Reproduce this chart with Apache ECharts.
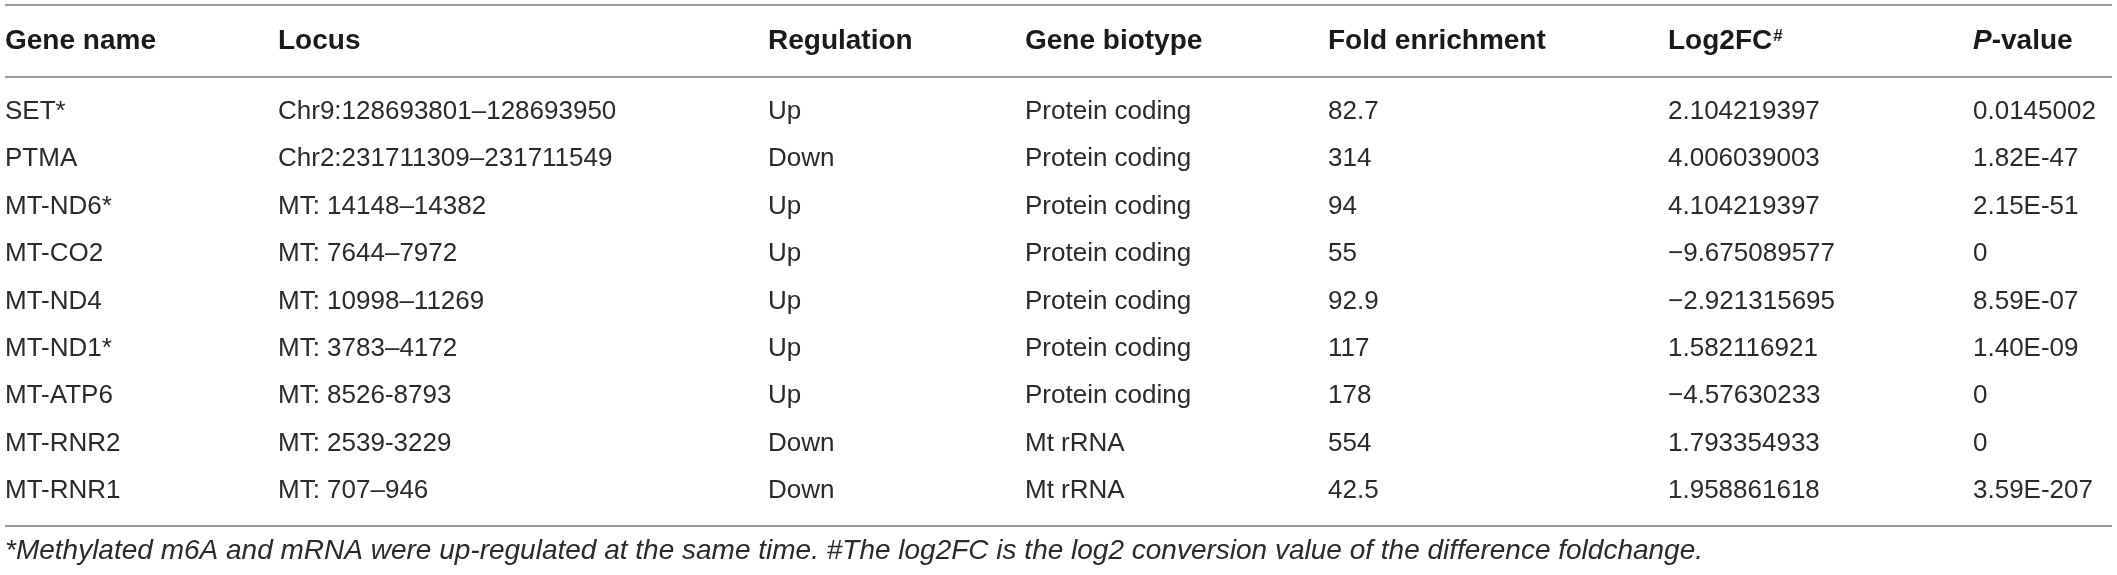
<!DOCTYPE html>
<html>
<head>
<meta charset="utf-8">
<script src="https://cdn.jsdelivr.net/npm/echarts@6/dist/echarts.min.js"></script>
<style>
  html, body { margin: 0; padding: 0; background: #fff; }
  #chart { width: 2117px; height: 575px; }
</style>
</head>
<body>
<div id="chart"></div>
<script>
// ---- table data ----
const headers = ['Gene name', 'Locus', 'Regulation', 'Gene biotype', 'Fold enrichment', 'Log2FC#', 'P-value'];
const geneNames = ['SET*', 'PTMA', 'MT-ND6*', 'MT-CO2', 'MT-ND4', 'MT-ND1*', 'MT-ATP6', 'MT-RNR2', 'MT-RNR1'];
const loci = ['Chr9:128693801\u2013128693950', 'Chr2:231711309\u2013231711549', 'MT: 14148\u201314382', 'MT: 7644\u20137972',
  'MT: 10998\u201311269', 'MT: 3783\u20134172', 'MT: 8526-8793', 'MT: 2539-3229', 'MT: 707\u2013946'];
const regulation = ['Up', 'Down', 'Up', 'Up', 'Up', 'Up', 'Up', 'Down', 'Down'];
const geneBiotype = ['Protein coding', 'Protein coding', 'Protein coding', 'Protein coding', 'Protein coding',
  'Protein coding', 'Protein coding', 'Mt rRNA', 'Mt rRNA'];
const foldEnrichment = ['82.7', '314', '94', '55', '92.9', '117', '178', '554', '42.5'];
const log2FC = ['2.104219397', '4.006039003', '4.104219397', '\u22129.675089577', '\u22122.921315695',
  '1.582116921', '\u22124.57630233', '1.793354933', '1.958861618'];
const pValues = ['0.0145002', '1.82E-47', '2.15E-51', '0', '8.59E-07', '1.40E-09', '0', '0', '3.59E-207'];
const footnote = '*Methylated m6A and mRNA were up-regulated at the same time. #The log2FC is the log2 conversion value of the difference foldchange.';

// ---- layout (pixel positions of columns / rules) ----
const colX = [5, 278, 768, 1025, 1328, 1668, 1973];
const ruleY = [5, 77, 526];
const headerY = 41.5;
const footY = 551;

const columns = [geneNames, loci, regulation, geneBiotype, foldEnrichment, log2FC, pValues];
const cells = [];
for (let r = 0; r < geneNames.length; r++) {
  for (let c = 0; c < columns.length; c++) cells.push([r, c]);
}

const FONT = '"Liberation Sans", Arial, Helvetica, sans-serif';

const graphics = [];
ruleY.forEach(y => graphics.push({
  type: 'line', silent: true,
  shape: { x1: 5, y1: y, x2: 2112, y2: y },
  style: { stroke: '#9b9b9b', lineWidth: 2 }
}));
headers.forEach((h, i) => {
  let text = h;
  if (h === 'Log2FC#') text = 'Log2FC{sup|#}';
  if (h === 'P-value') text = '{it|P}-value';
  graphics.push({
    type: 'text', silent: true,
    x: colX[i], y: headerY,
    style: {
      text: text,
      fill: '#1a1a1a',
      fontFamily: FONT, fontSize: 28, fontWeight: 'bold',
      textAlign: 'left', textVerticalAlign: 'middle',
      rich: {
        sup: { fontFamily: FONT, fontSize: 17, fontWeight: 'bold', fill: '#1a1a1a', verticalAlign: 'top', padding: [0, 0, 10, 1] },
        it: { fontFamily: FONT, fontSize: 28, fontWeight: 'bold', fontStyle: 'italic', fill: '#1a1a1a' }
      }
    }
  });
});
graphics.push({
  type: 'text', silent: true,
  x: 5, y: footY,
  style: {
    text: footnote, fill: '#2a2a2a',
    fontFamily: FONT, fontSize: 28, fontStyle: 'italic',
    textAlign: 'left', textVerticalAlign: 'middle'
  }
});

const chart = echarts.init(document.getElementById('chart'), null, { renderer: 'canvas' });
chart.setOption({
  animation: false,
  backgroundColor: '#ffffff',
  grid: { left: 0, right: 0, top: 77, bottom: 49, containLabel: false },
  xAxis: { type: 'value', min: 0, max: 2117, show: false },
  yAxis: { type: 'value', min: -0.737, max: 8.737, inverse: true, show: false },
  graphic: graphics,
  series: [{
    type: 'custom',
    coordinateSystem: 'cartesian2d',
    data: cells,
    encode: { x: 1, y: 0 },
    renderItem: function (params, api) {
      const r = api.value(0), c = api.value(1);
      const pt = api.coord([colX[c], r]);
      return {
        type: 'text',
        x: pt[0], y: pt[1],
        style: {
          text: columns[c][r],
          fill: '#2a2a2a',
          fontFamily: FONT, fontSize: 26,
          textAlign: 'left', textVerticalAlign: 'middle'
        }
      };
    }
  }]
});
</script>
</body>
</html>
